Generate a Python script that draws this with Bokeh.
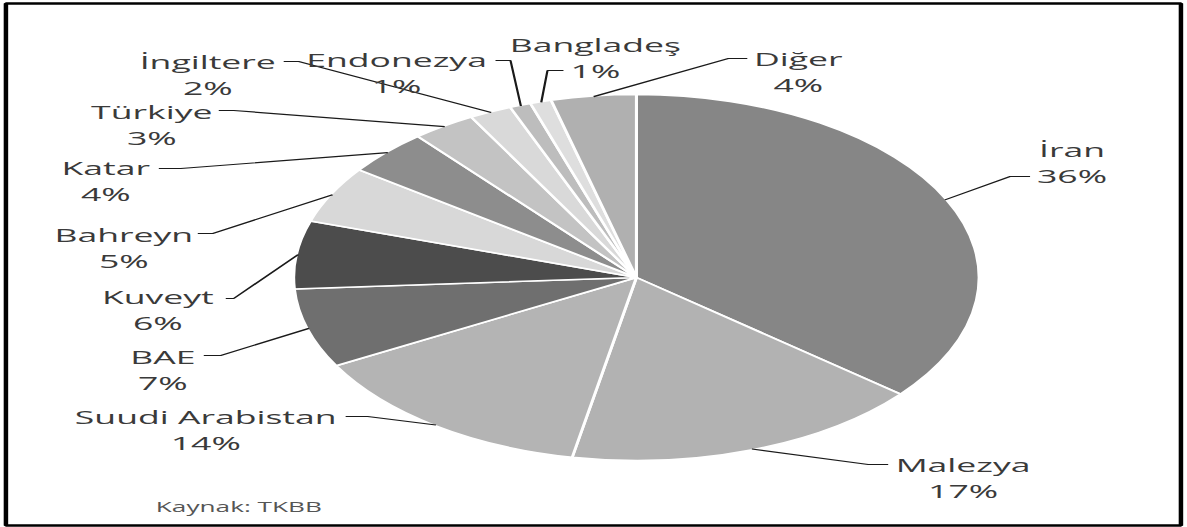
import math

from bokeh.core.properties import value
from bokeh.embed import file_html
from bokeh.models import ColumnDataSource, Range1d
from bokeh.plotting import figure
from bokeh.resources import INLINE

# Katılım bankacılığı aktif büyüklüğünün ülkelere göre dağılımı (%)
categories = ["İran", "Malezya", "Suudi Arabistan", "BAE", "Kuveyt", "Bahreyn",
              "Katar", "Türkiye", "İngiltere", "Endonezya", "Bangladeş", "Diğer"]
shares = [36, 17, 14, 7, 6, 5, 4, 3, 2, 1, 1, 4]
source_note = "Kaynak: TKBB"

# grey tones of the slices, in slice order
colors = ["#868686", "#b2b2b2", "#b4b4b4", "#6f6f6f", "#4c4c4c", "#d8d8d8",
          "#8d8d8d", "#c3c3c3", "#d9d9d9", "#bdbdbd", "#dedede", "#b0b0b0"]

# page geometry (screen pixels, y measured downward from the top)
PAGE_W, PAGE_H = 1187, 527
STRETCH = 1.872                      # horizontal stretch of the whole drawing
FIG_W = 634                          # un-stretched figure width
CX, CY, R = 636, 277, 343            # pie centre and horizontal radius

# label anchors: centre x, baseline of the name line
label_pos = [(1072, 150), (963, 465), (205, 417), (162, 357), (157, 297),
             (123, 235), (105, 168), (151, 112), (207, 62), (396, 60),
             (595, 45), (798, 59)]
LINE_GAP = 26
# leader elbows: x at the label side, x where the line turns, y of the short run
leader_elbow = [(1030, 1010, 176), (888, 868, 464), (345, 367, 416),
                (203, 220, 355), (225, 233, 298), (197, 212, 233),
                (158, 180, 168), (218, 233, 110), (283, 298, 61),
                (495, 510, 60), (563, 547, 70), (747, 728, 58)]


def Y(y_screen):
    return PAGE_H - y_screen


# The canvas is laid out at the stretched width, so the x range covers
# the page width times the stretch; after scaleX one data unit is one pixel.
XSPAN = PAGE_W * STRETCH
p = figure(width=FIG_W, height=PAGE_H, output_backend="svg", toolbar_location=None,
           x_axis_type=None, y_axis_type=None, min_border=0,
           x_range=Range1d(0, XSPAN), y_range=Range1d(0, PAGE_H))
p.grid.visible = False
p.outline_line_color = None
p.background_fill_color = "white"
p.border_fill_color = "white"
p.styles = {"transform": f"scaleX({STRETCH})", "transform-origin": "0 0"}

# vertical radius of the pie in data units (wedge radius is measured along x)
RY = R / STRETCH

total = float(sum(shares))
starts, ends, mids = [], [], []
acc = 0.0
for v in shares:
    f0 = acc / total
    acc += v
    f1 = acc / total
    starts.append(math.pi / 2 - 2 * math.pi * f0)
    ends.append(math.pi / 2 - 2 * math.pi * f1)
    mids.append(2 * math.pi * (f0 + f1) / 2)

pie = ColumnDataSource(dict(cat=categories, share=shares, start=starts, end=ends, color=colors))
p.wedge(x=CX, y=Y(CY), radius=R, start_angle="start", end_angle="end",
        direction="clock", fill_color="color", line_color="white", line_width=1.6,
        source=pie)

# leader lines: short horizontal run at the label, then to the slice's outer edge
xs, ys = [], []
for (xa, xb, yl), th in zip(leader_elbow, mids):
    ex = CX + R * 0.995 * math.sin(th)
    ey = Y(CY) + RY * 0.995 * math.cos(th)
    xs.append([xa, xb, ex])
    ys.append([Y(yl), Y(yl), ey])
p.multi_line(xs=xs, ys=ys, line_color="#1a1a1a", line_width=1.2)

# two-line labels: name over percentage
name_src = ColumnDataSource(dict(x=[q[0] for q in label_pos],
                                 y=[Y(q[1]) for q in label_pos],
                                 text=categories))
pct_src = ColumnDataSource(dict(x=[q[0] for q in label_pos],
                                y=[Y(q[1] + LINE_GAP) for q in label_pos],
                                text=[f"{v}%" for v in shares]))
for src in (name_src, pct_src):
    p.text(x="x", y="y", text="text", source=src, text_align="center",
           text_baseline="alphabetic", text_font=value("Open Sans"),
           text_font_size="19px", text_color="#3a3a3a")

p.text(x=[155], y=[Y(506)], text=[source_note], text_align="left",
       text_baseline="alphabetic", text_font=value("Open Sans"),
       text_font_size="14px", text_color="#555555")

# frame around the chart
p.quad(left=[5], right=[1181], top=[Y(3)], bottom=[Y(525)], fill_color=None,
       line_color="black", line_width=2.4)

open("out.html", "w").write(file_html(p, INLINE))
